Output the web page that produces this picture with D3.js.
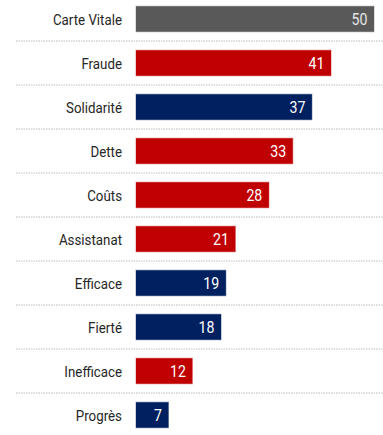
<!DOCTYPE html>
<html>
<head>
<meta charset="utf-8">
<script src="https://cdn.jsdelivr.net/npm/d3@7"></script>
<style>
  body { margin: 0; background: #fff; }
  svg { display: block; }
  text { font-family: "Roboto", "DejaVu Sans", sans-serif; }
</style>
</head>
<body>
<svg></svg>
<script>
// data
const labels = ["Carte Vitale", "Fraude", "Solidarité", "Dette", "Coûts", "Assistanat", "Efficace", "Fierté", "Inefficace", "Progrès"];
const values = [50, 41, 37, 33, 28, 21, 19, 18, 12, 7];
const groups = ["neutre", "negatif", "positif", "negatif", "negatif", "negatif", "positif", "positif", "negatif", "positif"];

const width = 383;
const height = 435;

const rows = labels.map((l, i) => ({ label: l, value: values[i], group: groups[i] }));

const colors = {
    neutre: "#595959",
    negatif: "#c00000",
    positif: "#002060"
};

const svg = d3.select("svg")
    .attr("width", width)
    .attr("height", height);

const x = d3.scaleLinear()
    .domain([0, 50])
    .range([135.5, 374.5]);

const y = d3.scaleBand()
    .domain(labels)
    .range([-3, 437])
    .paddingInner(0.4)
    .paddingOuter(0.2);

// dotted separators between rows
const gap = (y.step() - y.bandwidth()) / 2;
svg.selectAll(".sep")
    .data(rows.slice(0, -1))
    .enter()
    .append("line")
    .attr("class", "sep")
    .attr("x1", 16)
    .attr("x2", width)
    .attr("y1", d => y(d.label) + y.bandwidth() + gap)
    .attr("y2", d => y(d.label) + y.bandwidth() + gap)
    .attr("stroke", "#bdbdbd")
    .attr("stroke-width", 1)
    .attr("stroke-dasharray", "1.5,1");

// bars
svg.selectAll(".bar")
    .data(rows)
    .enter()
    .append("rect")
    .attr("class", "bar")
    .attr("x", x(0))
    .attr("y", d => y(d.label))
    .attr("width", d => x(d.value) - x(0))
    .attr("height", y.bandwidth())
    .attr("fill", d => colors[d.group])
    .attr("stroke", "#ffffff")
    .attr("stroke-opacity", 0.6)
    .attr("stroke-width", 1);

// condensed look: squeeze text horizontally (no narrow font installed)
const squeeze = 0.86;

// category labels
svg.selectAll(".lab")
    .data(rows)
    .enter()
    .append("text")
    .attr("class", "lab")
    .attr("transform", d => `translate(122,${y(d.label) + y.bandwidth() / 2}) scale(${squeeze},1)`)
    .attr("dy", "0.36em")
    .attr("text-anchor", "end")
    .attr("font-size", 15.5)
    .attr("fill", "#262626")
    .text(d => d.label);

// value labels
svg.selectAll(".val")
    .data(rows)
    .enter()
    .append("text")
    .attr("class", "val")
    .attr("transform", d => `translate(${x(d.value) - 7},${y(d.label) + y.bandwidth() / 2}) scale(${squeeze},1)`)
    .attr("dy", "0.36em")
    .attr("text-anchor", "end")
    .attr("font-size", 16.5)
    .attr("fill", d => d.group === "neutre" ? "#e6e6e6" : "#ffffff")
    .text(d => d.value);
</script>
</body>
</html>
